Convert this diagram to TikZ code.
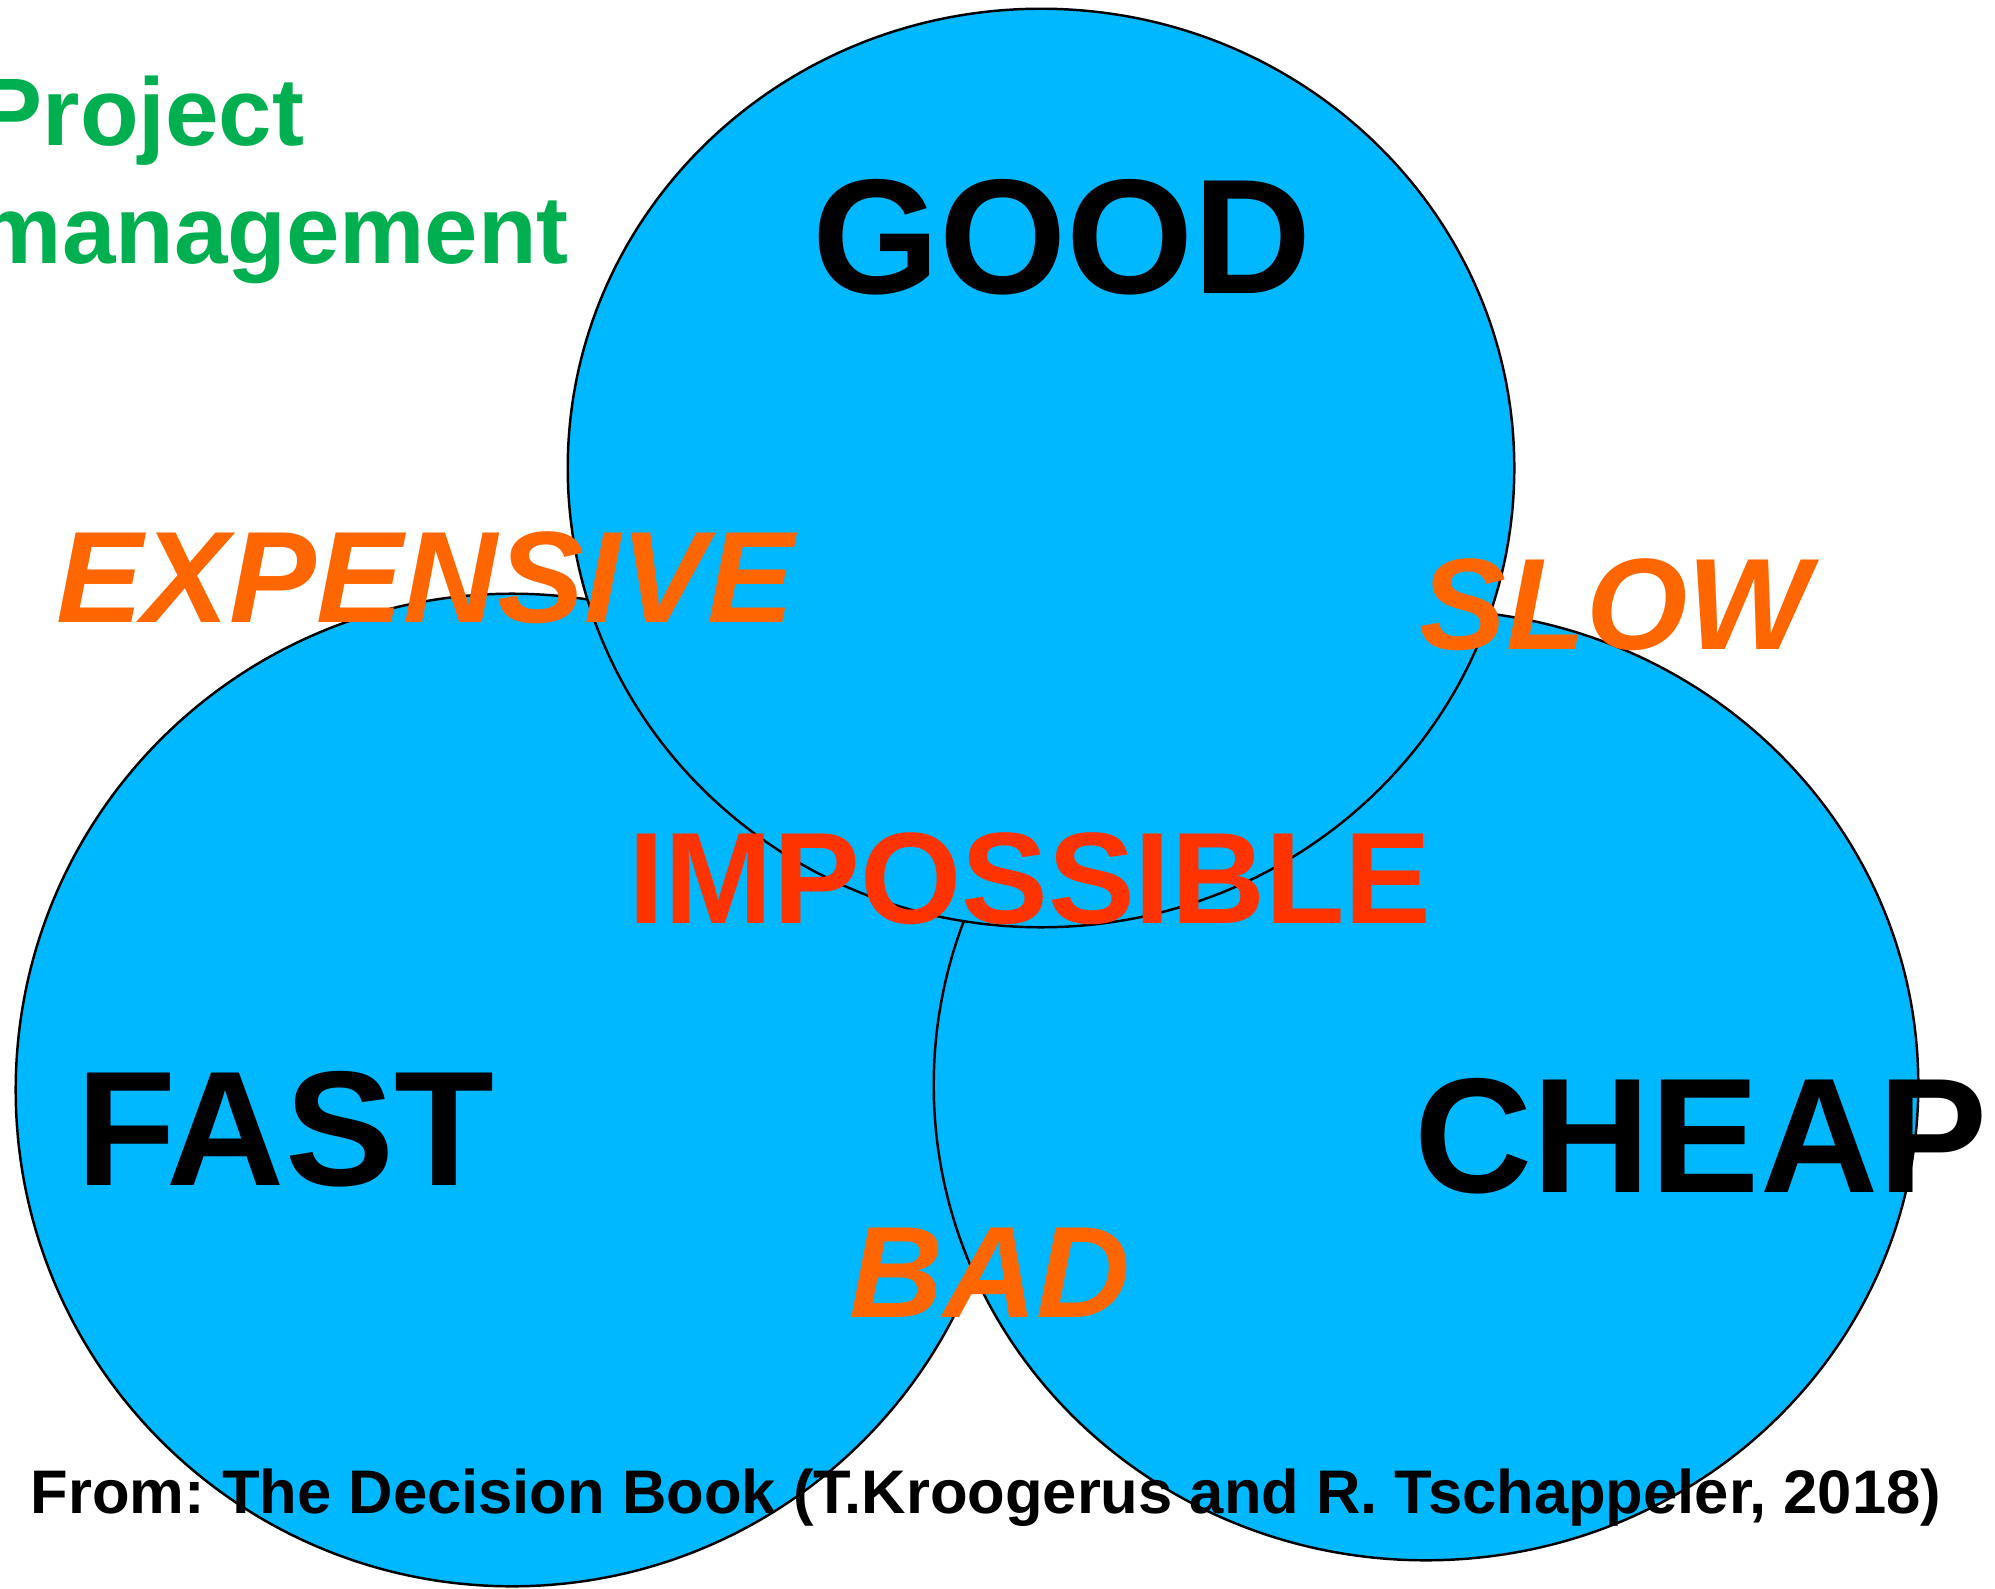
\documentclass[tikz,border=0pt]{standalone}
\usepackage{fontspec}
\setmainfont{Liberation Sans}
\usepackage{xcolor}
\usepackage{tikz}
\usetikzlibrary{positioning}
\definecolor{vennBlue}{HTML}{00B8FF}
\definecolor{titleGreen}{HTML}{00B050}
\definecolor{tradeOrange}{HTML}{FF6600}
\definecolor{impossibleRed}{HTML}{FF3300}
\frenchspacing

\begin{document}
\begin{tikzpicture}[x=0.01cm,y=-0.01cm,
    venn/.style={fill=vennBlue,draw=black,line width=0.7pt},
    corner/.style={inner sep=0pt,anchor=base,font=\bfseries\fontsize{46.5}{50}\selectfont},
    tradeoff/.style={inner sep=0pt,anchor=base,text=tradeOrange,font=\bfseries\itshape\fontsize{37}{40}\selectfont},
    title/.style={inner sep=0pt,anchor=base west,text=titleGreen,font=\bfseries\fontsize{27.3}{30}\selectfont}
]
    \useasboundingbox (0,0) rectangle (1995,1588);

    % Circles
    \draw[venn] (512,1090) ellipse [x radius=4.96cm,y radius=4.96cm];
    \draw[venn] (1426,1085) ellipse [x radius=4.92cm,y radius=4.75cm];
    \draw[venn] (1041,468) ellipse [x radius=4.73cm,y radius=4.59cm];

    % Title
    \node[title] (project) at (-22,146) {Project};
    \node[title] (mgmt) at (-24,263) {management};

    % Corners
    \node[corner] (good) at (1062,293) {GOOD};
    \node[corner] (fast) at (285,1185) {FAST};
    \node[corner] (cheap) at (1701,1192) {CHEAP};

    % Trade-offs
    \node[tradeoff] (expensive) at (425,622) {EXPENSIVE};
    \node[tradeoff] (slow) at (1615,649) {SLOW};
    \node[tradeoff] (bad) at (990,1317) {BAD};
    \node[inner sep=0pt,anchor=base,text=impossibleRed,font=\bfseries\fontsize{37}{40}\selectfont]
        (impossible) at (1030,923) {IMPOSSIBLE};

    % Source
    \node[inner sep=0pt,anchor=base west,font=\bfseries\fontsize{17.5}{20}\selectfont]
        (source) at (30,1513) {From: The Decision Book (T.Kroogerus and R. Tschappeler, 2018)};
\end{tikzpicture}
\end{document}
